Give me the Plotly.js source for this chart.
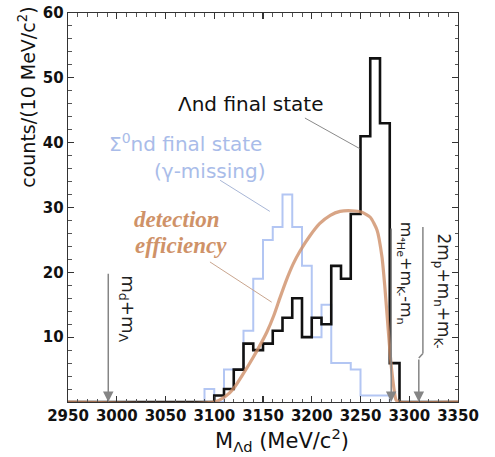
<!DOCTYPE html>
<html>
<head>
<meta charset="utf-8">
<script src="https://cdn.plot.ly/plotly-3.0.1.min.js"></script>
<style>
  html, body { margin: 0; padding: 0; background: #fff; }
  #chart { width: 495px; height: 457px; }
</style>
</head>
<body>
<div id="chart"></div>
<script>
// Invariant-mass spectra, counts per 10 MeV/c^2 bin (bin lower edges).
const binWidth = 10;
const massRange = [2950, 3350];

// Λnd final state
const lambdaBins   = [3100, 3110, 3120, 3130, 3140, 3150, 3160, 3170, 3180, 3190,
                      3200, 3210, 3220, 3230, 3240, 3250, 3260, 3270, 3280];
const lambdaCounts = [1, 2, 5, 9, 8, 9, 11, 13, 16, 10,
                      13, 12, 21, 19, 29, 41, 53, 43, 6];

// Σ0nd final state (γ missing)
const sigmaBins   = [3090, 3100, 3110, 3120, 3130, 3140, 3150, 3160, 3170, 3180,
                     3190, 3200, 3210, 3220, 3230, 3240, 3250, 3260, 3270];
const sigmaCounts = [2, 0, 5, 5, 11, 19, 25, 27, 32, 27,
                     21, 10, 15, 6, 6, 5, 1, 1, 1];

// Detection efficiency (arbitrary scale, drawn on the count axis)
const effMass = [2950, 3100, 3111, 3120, 3130, 3140, 3146, 3154, 3161, 3167, 3174,
                 3181, 3188, 3198, 3208, 3219, 3229, 3241, 3251, 3260, 3267, 3272,
                 3275, 3278.5, 3282, 3286.5, 3289, 3350];
const effValue = [0, 0, 0.8, 2.1, 4.4, 6.9, 8.5, 10.8, 13.3, 15.9, 18.8,
                  21.3, 23.3, 25.6, 27.5, 28.8, 29.4, 29.5, 29.3, 28.5, 26.5, 22.4,
                  17.7, 11, 4.9, 0.3, 0, 0];

// Kinematic thresholds (MeV/c^2)
const thresholdMass  = [2991.3, 3281.5, 3309.8];
const thresholdTop   = [20, 27, 27];
const thresholdLabel = [
  'm<sub>d</sub>+m<sub>Λ</sub>',
  'm<sub>⁴He</sub>+m<sub>K-</sub>-m<sub>n</sub>',
  '2m<sub>p</sub>+m<sub>n</sub>+m<sub>K-</sub>'
];

const FONT = 'DejaVu Sans, Arial, sans-serif';
const SERIF = 'Liberation Serif, Times New Roman, serif';
const BLACK = '#111111';
const BLUE = '#b3c6f3';
const BLUE_TEXT = '#a9bce9';
const TAN = 'rgb(205,140,100)';
const TAN_TEXT = '#cf9268';
const GREY = '#858585';

// Build a step outline from bin lower edges and counts.
function stepOutline(bins, counts, from, to) {
  const last = bins[bins.length - 1] + binWidth;
  const x = [], y = [];
  x.push(from !== undefined ? from : bins[0]); y.push(0);
  bins.forEach((b, i) => { x.push(b); y.push(counts[i]); });
  x.push(last); y.push(0);
  if (to !== undefined) { x.push(to); y.push(0); }
  return { x, y };
}

const sig = stepOutline(sigmaBins, sigmaCounts);
const lam = stepOutline(lambdaBins, lambdaCounts, massRange[0], massRange[1]);

const traces = [
  { x: sig.x, y: sig.y, mode: 'lines', line: { shape: 'hv', color: BLUE, width: 2 },
    hoverinfo: 'skip', name: 'Σ0nd' },
  { x: lam.x, y: lam.y, mode: 'lines', line: { shape: 'hv', color: BLACK, width: 2.6 },
    hoverinfo: 'skip', name: 'Λnd' },
  { x: effMass, y: effValue, mode: 'lines', opacity: 0.78,
    line: { shape: 'spline', smoothing: 0.6, color: TAN, width: 3.2 },
    hoverinfo: 'skip', name: 'efficiency' }
];

const annotations = [
  { x: 3137.7, y: 46, text: 'Λnd final state', showarrow: false,
    font: { family: FONT, size: 20, color: BLACK } },
  { x: 3070.5, y: 40, text: 'Σ<sup>0</sup>nd final state', showarrow: false,
    font: { family: FONT, size: 20, color: BLUE_TEXT } },
  { x: 3095.6, y: 35.7, text: '(γ-missing)', showarrow: false,
    font: { family: FONT, size: 20, color: BLUE_TEXT } },
  { x: 3062.3, y: 28.2, text: '<b><i>detection</i></b>', showarrow: false,
    font: { family: SERIF, size: 23, color: TAN_TEXT } },
  { x: 3065.4, y: 24.2, text: '<b><i>efficiency</i></b>', showarrow: false,
    font: { family: SERIF, size: 23, color: TAN_TEXT } },
  // axis titles
  { xref: 'paper', yref: 'paper', x: 0.549, y: -0.097, xanchor: 'center', yanchor: 'middle',
    text: 'M<sub>Λd</sub> (MeV/c<sup>2</sup>)', showarrow: false,
    font: { family: FONT, size: 21, color: BLACK } },
  { xref: 'paper', yref: 'paper', x: -0.105, y: 1.02, xanchor: 'center', yanchor: 'top',
    textangle: -90, text: 'counts/(10 MeV/c<sup>2</sup>)', showarrow: false,
    font: { family: FONT, size: 19, color: BLACK } }
];

// Threshold arrows and their rotated labels
const labelPos = [
  { x: 3010.5, y: 14.3, size: 18 },
  { x: 3295.6, y: 19.8, size: 16 },
  { x: 3333.6, y: 17.2, size: 17 }
];
thresholdMass.forEach((m, i) => {
  const tail = i === 2 ? 6.8 : thresholdTop[i];
  annotations.push({
    x: m, y: 0, ax: m, ay: tail, axref: 'x', ayref: 'y', xref: 'x', yref: 'y',
    showarrow: true, arrowhead: 2, arrowsize: 1.4, arrowwidth: 1.5,
    arrowcolor: GREY, standoff: 0, startstandoff: 0, text: ''
  });
  annotations.push({
    x: labelPos[i].x, y: labelPos[i].y, text: thresholdLabel[i], textangle: 90,
    showarrow: false, font: { family: FONT, size: labelPos[i].size, color: '#222' }
  });
});

const shapes = [
  // pointer lines from the labels to the curves
  { type: 'line', xref: 'x', yref: 'y', x0: 3193, y0: 43.8, x1: 3249, y1: 39.1,
    line: { color: '#8a8a8a', width: 1 } },
  { type: 'line', xref: 'x', yref: 'y', x0: 3106, y0: 34.2, x1: 3157, y1: 29.4,
    line: { color: '#a8b6d6', width: 1 } },
  { type: 'line', xref: 'x', yref: 'y', x0: 3095.6, y0: 21.6, x1: 3158.9, y1: 15.4,
    line: { color: '#c9a58e', width: 1 } },
  // upper, offset part of the 2m_p+m_n+m_K- marker
  { type: 'line', xref: 'x', yref: 'y', x0: 3314, y0: thresholdTop[2], x1: 3314, y1: 7.5,
    line: { color: GREY, width: 1.5 } },
  { type: 'line', xref: 'x', yref: 'y', x0: 3314, y0: 7.5, x1: thresholdMass[2], y1: 6.8,
    line: { color: GREY, width: 1.5 } }
];

const axisCommon = {
  showgrid: false, zeroline: false, showline: true,
  linecolor: '#333', linewidth: 1.3, mirror: 'ticks',
  ticks: 'inside', ticklen: 6, tickwidth: 1.2, tickcolor: '#333',
  tickfont: { family: FONT, size: 15, weight: 'bold', color: BLACK }
};

const layout = {
  width: 495, height: 457,
  margin: { l: 68, r: 37, t: 13, b: 55 },
  paper_bgcolor: '#fff', plot_bgcolor: '#fff',
  showlegend: false,
  xaxis: Object.assign({}, axisCommon, {
    range: massRange, tick0: 2950, dtick: 50, tickmode: 'linear',
    minor: { dtick: 10, tick0: 2950, ticks: 'inside', ticklen: 3.5, tickcolor: '#555', tickwidth: 1 }
  }),
  yaxis: Object.assign({}, axisCommon, {
    range: [0, 60], tickmode: 'array',
    tickvals: [0, 10, 20, 30, 40, 50, 60],
    ticktext: ['', '10', '20', '30', '40', '50', '60'],
    minor: { dtick: 2, tick0: 0, ticks: 'inside', ticklen: 3.5, tickcolor: '#555', tickwidth: 1 }
  }),
  annotations: annotations,
  shapes: shapes
};

Plotly.newPlot('chart', traces, layout, { displayModeBar: false, staticPlot: true });
</script>
</body>
</html>
